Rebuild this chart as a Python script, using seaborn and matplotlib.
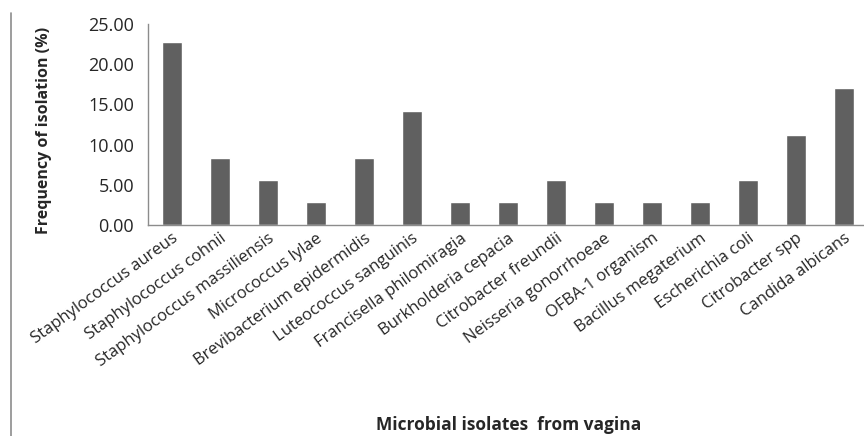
import matplotlib
matplotlib.use("Agg")
import matplotlib.pyplot as plt
import seaborn as sns
import pandas as pd
from matplotlib.lines import Line2D
from matplotlib.ticker import FormatStrFormatter

# isolats et fréquences (%)
isolates = [
    "Staphylococcus aureus", "Staphylococcus cohnii", "Staphylococcus massiliensis",
    "Micrococcus lylae", "Brevibacterium epidermidis", "Luteococcus sanguinis",
    "Francisella philomiragia", "Burkholderia cepacia", "Citrobacter freundii",
    "Neisseria gonorrhoeae", "OFBA-1 organism", "Bacillus megaterium",
    "Escherichia coli", "Citrobacter spp", "Candida albicans",
]
frequency = [22.8, 8.3, 5.6, 2.8, 8.3, 14.2, 2.8, 2.8, 5.6, 2.8, 2.8, 2.8, 5.6, 11.2, 17.1]

df = pd.DataFrame({"isolate": isolates, "freq": frequency})

sns.set_style("white")
plt.rcParams['font.family'] = ['Open Sans', 'DejaVu Sans']

fig = plt.figure(figsize=(8.64, 4.36), dpi=100)
ax = fig.add_axes([148 / 864, 211 / 436, 720 / 864, 201 / 436])

sns.barplot(data=df, x="isolate", y="freq", color="#606060", saturation=1,
            width=0.42, ax=ax)

ax.set_ylim(0, 25)
ax.set_xlim(-0.5, 14.5)
ax.set_yticks([0, 5, 10, 15, 20, 25])
ax.yaxis.set_major_formatter(FormatStrFormatter('%.2f'))
ax.tick_params(axis='y', length=5, color='#888888', labelsize=13, pad=5)
ax.tick_params(axis='x', length=0, labelsize=12, pad=4)
plt.setp(ax.get_xticklabels(), rotation=36, ha='right', rotation_mode='anchor')

for s in ['top', 'right']:
    ax.spines[s].set_visible(False)
for s in ['left', 'bottom']:
    ax.spines[s].set_color('#8c8c8c')
    ax.spines[s].set_linewidth(1)

ax.set_xlabel("")
ax.set_ylabel("Frequency of isolation (%)", fontsize=11.5, fontweight='bold')
ax.yaxis.set_label_coords(-0.133, 0.47)

fig.text(509 / 864, 2 / 436, "Microbial isolates  from vagina",
         ha='center', va='bottom', fontsize=12.5, fontweight='bold')

# bordure gauche du cadre
fig.add_artist(Line2D([11 / 864, 11 / 864], [0, 1 - 13 / 436], color='#8c8c8c',
                      lw=1.2, transform=fig.transFigure))

fig.savefig("out.png", dpi=100)
